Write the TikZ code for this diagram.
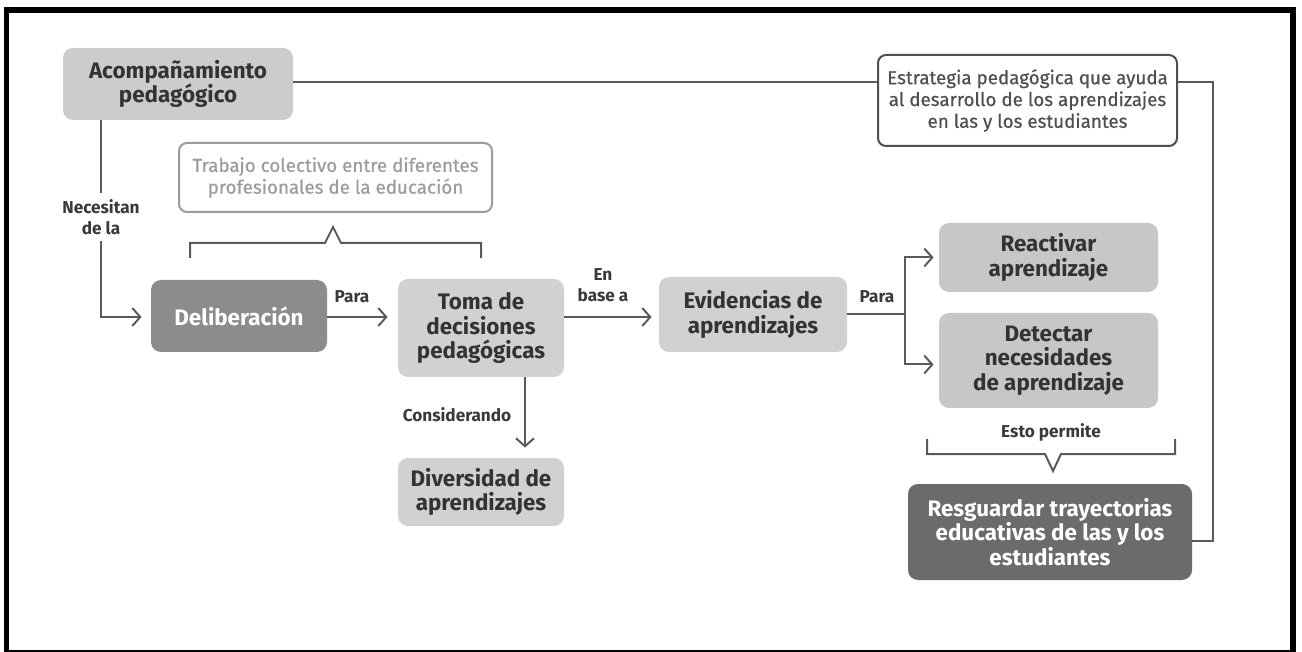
\documentclass[tikz,border=0pt]{standalone}
\usepackage{fontspec}
\setmainfont{Fira Sans}
\newfontfamily\notefont{Fira Sans}[FakeBold=0.5]
\usetikzlibrary{arrows.meta}
\definecolor{linec}{HTML}{5A5A5A}
\definecolor{textc}{HTML}{333333}
\definecolor{labc}{HTML}{3A3A3A}
\definecolor{boxa}{HTML}{CCCCCC}
\definecolor{boxb}{HTML}{D1D1D1}
\definecolor{boxc}{HTML}{C7C7C7}
\definecolor{boxdark}{HTML}{8C8C8C}
\definecolor{boxdarker}{HTML}{6B6B6B}
\definecolor{notec}{HTML}{4F4F4F}
\definecolor{notelight}{HTML}{9C9C9C}
\tikzset{
  box/.style={rounded corners=5pt, inner sep=0pt, align=center,
    font=\fontsize{11.2}{12.2}\selectfont\bfseries, text=textc},
  lightbox/.style={box, fill=boxb},
  midbox/.style={box, fill=boxc},
  darkbox/.style={box, fill=boxdark, text=white},
  darkerbox/.style={box, fill=boxdarker, text=white},
  notebox/.style={rounded corners=4pt, inner sep=0pt, align=center, draw=notec,
    line width=1pt, fill=white,
    font=\fontsize{9.4}{10.9}\selectfont\notefont, text=notec},
  lab/.style={font=\fontsize{8.6}{10.8}\selectfont\bfseries, text=labc, align=center, inner sep=1pt},
  conn/.style={draw=linec, line width=1pt},
  arr/.style={conn, -{Straight Barb[length=4pt,width=9pt]}},
}
\begin{document}
\begin{tikzpicture}[x=0.5pt,y=-0.5pt]
\useasboundingbox (0,0) rectangle (1302,652);
\fill[white] (0,0) rectangle (1302,652);
\draw[black, line width=2.9pt] (6.5,10) rectangle (1293,653);

% nodes
\node[box, fill=boxa, minimum width=115pt, minimum height=36pt] (acomp) at (178,84) {Acompañamiento\\pedagógico};
\node[notebox, minimum width=149.5pt, minimum height=45.5pt] (estr) at (1027.5,100.5) {Estrategia pedagógica que ayuda\\al desarrollo de los aprendizajes\\en las y los estudiantes};
\node[notebox, draw=notelight, text=notelight, minimum width=156.5pt, minimum height=34.5pt] (trab) at (335.5,177.5) {Trabajo colectivo entre diferentes\\profesionales de la educación};
\node[darkbox, minimum width=88pt, minimum height=36pt] (delib) at (239,316) {Deliberación};
\node[lightbox, minimum width=83pt, minimum height=49pt] (toma) at (481,328) {Toma de\\decisiones\\pedagógicas};
\node[lightbox, minimum width=94pt, minimum height=37.5pt] (evid) at (753,314.5) {Evidencias de\\aprendizajes};
\node[midbox, minimum width=109.5pt, minimum height=34.5pt] (react) at (1048.5,257.5) {Reactivar\\aprendizaje};
\node[midbox, minimum width=109.5pt, minimum height=47.5pt] (detect) at (1048.5,360.5) {Detectar\\necesidades\\de aprendizaje};
\node[lightbox, minimum width=83pt, minimum height=34pt] (divers) at (481,492) {Diversidad de\\aprendizajes};
\node[darkerbox, minimum width=142pt, minimum height=48pt] (resg) at (1050,532) {Resguardar trayectorias\\educativas de las y los\\estudiantes};

% helper coordinates
\coordinate (topline) at (0,82);
\coordinate (necx) at (101,0);
\coordinate (arrowy) at (0,317);
\coordinate (splitx) at (905,0);
\coordinate (consx) at (525,0);
\coordinate (rightc) at (1213,541);

% top line to Estrategia and down to Resguardar
\draw[conn] (acomp.east |- topline) -- (estr.west |- topline);
\draw[conn] (estr.east |- topline) -| (rightc) -- (resg.east |- rightc);

% Acompañamiento -> Deliberación
\draw[arr, shorten >=4.5pt] (acomp.south -| necx) |- (delib.west |- arrowy);
\node[lab, fill=white, inner sep=3pt] (neces) at (101,217) {Necesitan\\de la};

% Deliberación -> Toma
\draw[arr, shorten >=5pt] (delib.east |- arrowy) -- (toma.west |- arrowy);
\node[lab] (para1) at (352,297) {Para};

% Toma -> Evidencias
\draw[arr, shorten >=3.5pt] (toma.east |- arrowy) -- (evid.west |- arrowy);
\node[lab] (enbase) at (603,285) {En\\base a};

% Evidencias -> Reactivar / Detectar
\draw[conn] (evid.east) -- (evid.east -| splitx);
\draw[arr, shorten >=2.5pt] (evid.east -| splitx) |- (react.west);
\draw[arr, shorten >=2.5pt] (evid.east -| splitx) |- ([yshift=-2pt]detect.west);
\node[lab] (para2) at (877,297) {Para};

% Toma -> Diversidad
\draw[arr, shorten >=5pt] (toma.south -| consx) -- (divers.north -| consx);
\node[lab] (consid) at (457,415) {Considerando};

% brackets
\draw[conn, line join=miter] (190,258) -- (190,243) -- (325,243) -- (333,227) -- (341,243) -- (481,243) -- (481,258);
\draw[conn, line join=miter] (927,439) -- (927,454) -- (1045,454) -- (1053,471) -- (1061,454) -- (1175,454) -- (1175,439);
\node[lab] (esto) at (1051,432) {Esto permite};
\end{tikzpicture}
\end{document}
